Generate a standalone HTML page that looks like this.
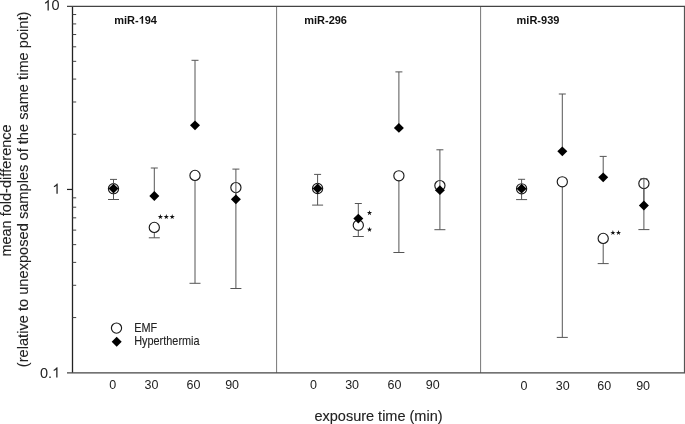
<!DOCTYPE html>
<html><head><meta charset="utf-8"><style>
html,body{margin:0;padding:0;background:#fff;width:685px;height:424px;overflow:hidden;position:relative}
</style></head><body>
<svg width="685" height="424" viewBox="0 0 685 424" style="position:absolute;left:0;top:0;will-change:transform;font-variant-ligatures:none;font-kerning:none">
<rect width="685" height="424" fill="#fff"/>
<line x1="276.6" y1="6.3" x2="276.6" y2="372.8" stroke="#777" stroke-width="1.0"/>
<line x1="480.6" y1="6.3" x2="480.6" y2="372.8" stroke="#777" stroke-width="1.0"/>
<line x1="72.5" y1="6.3" x2="72.5" y2="372.8" stroke="#222" stroke-width="1.3"/>
<line x1="684.5" y1="6.3" x2="684.5" y2="372.8" stroke="#555" stroke-width="1.2"/>
<line x1="67" y1="6.3" x2="685" y2="6.3" stroke="#444" stroke-width="1.35"/>
<line x1="67" y1="372.8" x2="685" y2="372.8" stroke="#444" stroke-width="1.35"/>
<line x1="67" y1="189.45" x2="72.5" y2="189.45" stroke="#222" stroke-width="1.2"/>
<line x1="72.5" y1="134.27" x2="76.2" y2="134.27" stroke="#444" stroke-width="1.0"/>
<line x1="72.5" y1="101.99" x2="76.2" y2="101.99" stroke="#444" stroke-width="1.0"/>
<line x1="72.5" y1="79.09" x2="76.2" y2="79.09" stroke="#444" stroke-width="1.0"/>
<line x1="72.5" y1="61.33" x2="76.2" y2="61.33" stroke="#444" stroke-width="1.0"/>
<line x1="72.5" y1="46.81" x2="76.2" y2="46.81" stroke="#444" stroke-width="1.0"/>
<line x1="72.5" y1="34.54" x2="76.2" y2="34.54" stroke="#444" stroke-width="1.0"/>
<line x1="72.5" y1="23.91" x2="76.2" y2="23.91" stroke="#444" stroke-width="1.0"/>
<line x1="72.5" y1="14.54" x2="76.2" y2="14.54" stroke="#444" stroke-width="1.0"/>
<line x1="72.5" y1="317.57" x2="76.2" y2="317.57" stroke="#444" stroke-width="1.0"/>
<line x1="72.5" y1="285.29" x2="76.2" y2="285.29" stroke="#444" stroke-width="1.0"/>
<line x1="72.5" y1="262.39" x2="76.2" y2="262.39" stroke="#444" stroke-width="1.0"/>
<line x1="72.5" y1="244.63" x2="76.2" y2="244.63" stroke="#444" stroke-width="1.0"/>
<line x1="72.5" y1="230.11" x2="76.2" y2="230.11" stroke="#444" stroke-width="1.0"/>
<line x1="72.5" y1="217.84" x2="76.2" y2="217.84" stroke="#444" stroke-width="1.0"/>
<line x1="72.5" y1="207.21" x2="76.2" y2="207.21" stroke="#444" stroke-width="1.0"/>
<line x1="72.5" y1="197.84" x2="76.2" y2="197.84" stroke="#444" stroke-width="1.0"/>
<g font-family='"Liberation Sans", sans-serif' fill="#222" style="font-size:14.5px">
<path d="M763 0H583V1147Q500 1068 400 1010Q300 955 224 931V1105Q380 1180 480 1275Q590 1375 647 1472H763Z" fill="#222" transform="translate(43.40,10.40) scale(0.007080,-0.007080)"/>
<text x="51.46" y="10.4">0</text>
<path d="M763 0H583V1147Q500 1068 400 1010Q300 955 224 931V1105Q380 1180 480 1275Q590 1375 647 1472H763Z" fill="#222" transform="translate(52.30,193.80) scale(0.007080,-0.007080)"/>
<text x="40.0" y="377.6">0.</text>
<path d="M763 0H583V1147Q500 1068 400 1010Q300 955 224 931V1105Q380 1180 480 1275Q590 1375 647 1472H763Z" fill="#222" transform="translate(52.09,377.60) scale(0.007080,-0.007080)"/>
</g>
<g font-family='"Liberation Sans", sans-serif' fill="#222" text-anchor="middle" style="font-size:12.5px">
<text x="112.8" y="388.7">0</text>
<text x="151.5" y="388.7">30</text>
<text x="193.4" y="388.7">60</text>
<text x="232.1" y="388.7">90</text>
<text x="313.6" y="388.7">0</text>
<text x="352.1" y="388.7">30</text>
<text x="394.4" y="388.7">60</text>
<text x="432.8" y="388.7">90</text>
<text x="524.0" y="389.5">0</text>
<text x="562.7" y="389.5">30</text>
<text x="604.2" y="389.5">60</text>
<text x="643.1" y="389.5">90</text>
</g>
<text x="378.5" y="420.8" font-family='"Liberation Sans", sans-serif' fill="#222" stroke="#222" stroke-width="0.12" text-anchor="middle" style="font-size:14.5px">exposure time (min)</text>
<g font-family='"Liberation Sans", sans-serif' fill="#222" stroke="#222" stroke-width="0.12" text-anchor="middle" style="font-size:14.5px">
<text transform="translate(11,190.5) rotate(-90)">mean fold-difference</text>
<text transform="translate(27.6,189.4) rotate(-90)" style="font-size:14.65px">(relative to unexposed samples of the same time point)</text>
</g>
<g font-family='"Liberation Sans", sans-serif' fill="#111" font-weight="bold" style="font-size:11.0px">
<text x="114.2" y="23.8">miR-</text>
<path d="M834 0H553V1059Q400 920 191 846V1101Q300 1140 430 1236Q560 1335 607 1469H834Z" fill="#111" transform="translate(138.64,23.80) scale(0.005371,-0.005371)"/>
<text x="144.76" y="23.8">94</text>
<text x="304.2" y="23.8">miR-296</text>
<text x="516.6" y="23.8">miR-939</text>
</g>
<line x1="113.5" y1="188.7" x2="113.5" y2="199.5" stroke="#555" stroke-width="1.0"/>
<line x1="108.0" y1="199.5" x2="119.0" y2="199.5" stroke="#555" stroke-width="1.0"/>
<circle cx="113.5" cy="188.7" r="5.1" fill="#fff" stroke="#1a1a1a" stroke-width="1.15"/>
<line x1="154.3" y1="227.4" x2="154.3" y2="237.8" stroke="#555" stroke-width="1.0"/>
<line x1="148.8" y1="237.8" x2="159.8" y2="237.8" stroke="#555" stroke-width="1.0"/>
<circle cx="154.3" cy="227.4" r="5.1" fill="#fff" stroke="#1a1a1a" stroke-width="1.15"/>
<line x1="195.0" y1="175.4" x2="195.0" y2="283.3" stroke="#555" stroke-width="1.0"/>
<line x1="189.5" y1="283.3" x2="200.5" y2="283.3" stroke="#555" stroke-width="1.0"/>
<circle cx="195.0" cy="175.4" r="5.1" fill="#fff" stroke="#1a1a1a" stroke-width="1.15"/>
<line x1="235.9" y1="187.6" x2="235.9" y2="288.5" stroke="#555" stroke-width="1.0"/>
<line x1="230.4" y1="288.5" x2="241.4" y2="288.5" stroke="#555" stroke-width="1.0"/>
<circle cx="235.9" cy="187.6" r="5.1" fill="#fff" stroke="#1a1a1a" stroke-width="1.15"/>
<line x1="317.6" y1="188.5" x2="317.6" y2="205.1" stroke="#555" stroke-width="1.0"/>
<line x1="312.1" y1="205.1" x2="323.1" y2="205.1" stroke="#555" stroke-width="1.0"/>
<circle cx="317.6" cy="188.5" r="5.1" fill="#fff" stroke="#1a1a1a" stroke-width="1.15"/>
<line x1="358.3" y1="225.2" x2="358.3" y2="236.5" stroke="#555" stroke-width="1.0"/>
<line x1="352.8" y1="236.5" x2="363.8" y2="236.5" stroke="#555" stroke-width="1.0"/>
<circle cx="358.3" cy="225.2" r="5.1" fill="#fff" stroke="#1a1a1a" stroke-width="1.15"/>
<line x1="398.9" y1="175.8" x2="398.9" y2="252.5" stroke="#555" stroke-width="1.0"/>
<line x1="393.4" y1="252.5" x2="404.4" y2="252.5" stroke="#555" stroke-width="1.0"/>
<circle cx="398.9" cy="175.8" r="5.1" fill="#fff" stroke="#1a1a1a" stroke-width="1.15"/>
<line x1="439.9" y1="185.6" x2="439.9" y2="229.7" stroke="#555" stroke-width="1.0"/>
<line x1="434.4" y1="229.7" x2="445.4" y2="229.7" stroke="#555" stroke-width="1.0"/>
<circle cx="439.9" cy="185.6" r="5.1" fill="#fff" stroke="#1a1a1a" stroke-width="1.15"/>
<line x1="521.6" y1="188.8" x2="521.6" y2="199.6" stroke="#555" stroke-width="1.0"/>
<line x1="516.1" y1="199.6" x2="527.1" y2="199.6" stroke="#555" stroke-width="1.0"/>
<circle cx="521.6" cy="188.8" r="5.1" fill="#fff" stroke="#1a1a1a" stroke-width="1.15"/>
<line x1="562.3" y1="181.8" x2="562.3" y2="337.4" stroke="#555" stroke-width="1.0"/>
<line x1="556.8" y1="337.4" x2="567.8" y2="337.4" stroke="#555" stroke-width="1.0"/>
<circle cx="562.3" cy="181.8" r="5.1" fill="#fff" stroke="#1a1a1a" stroke-width="1.15"/>
<line x1="603.2" y1="238.4" x2="603.2" y2="263.6" stroke="#555" stroke-width="1.0"/>
<line x1="597.7" y1="263.6" x2="608.7" y2="263.6" stroke="#555" stroke-width="1.0"/>
<circle cx="603.2" cy="238.4" r="5.1" fill="#fff" stroke="#1a1a1a" stroke-width="1.15"/>
<line x1="643.9" y1="183.5" x2="643.9" y2="229.6" stroke="#555" stroke-width="1.0"/>
<line x1="638.4" y1="229.6" x2="649.4" y2="229.6" stroke="#555" stroke-width="1.0"/>
<circle cx="643.9" cy="183.5" r="5.1" fill="#fff" stroke="#1a1a1a" stroke-width="1.15"/>
<line x1="113.5" y1="188.6" x2="113.5" y2="179.4" stroke="#555" stroke-width="1.0"/>
<line x1="110.0" y1="179.4" x2="117.0" y2="179.4" stroke="#555" stroke-width="1.0"/>
<polygon points="113.5,183.7 118.5,188.6 113.5,193.5 108.5,188.6" fill="#000"/>
<line x1="154.3" y1="196.0" x2="154.3" y2="168.0" stroke="#555" stroke-width="1.0"/>
<line x1="150.8" y1="168.0" x2="157.8" y2="168.0" stroke="#555" stroke-width="1.0"/>
<polygon points="154.3,191.1 159.3,196.0 154.3,200.9 149.3,196.0" fill="#000"/>
<line x1="195.0" y1="125.3" x2="195.0" y2="60.3" stroke="#555" stroke-width="1.0"/>
<line x1="191.5" y1="60.3" x2="198.5" y2="60.3" stroke="#555" stroke-width="1.0"/>
<polygon points="195.0,120.39999999999999 200.0,125.3 195.0,130.2 190.0,125.3" fill="#000"/>
<line x1="235.9" y1="199.3" x2="235.9" y2="169.1" stroke="#555" stroke-width="1.0"/>
<line x1="232.4" y1="169.1" x2="239.4" y2="169.1" stroke="#555" stroke-width="1.0"/>
<polygon points="235.9,194.4 240.9,199.3 235.9,204.20000000000002 230.9,199.3" fill="#000"/>
<line x1="317.6" y1="188.5" x2="317.6" y2="174.4" stroke="#555" stroke-width="1.0"/>
<line x1="314.1" y1="174.4" x2="321.1" y2="174.4" stroke="#555" stroke-width="1.0"/>
<polygon points="317.6,183.6 322.6,188.5 317.6,193.4 312.6,188.5" fill="#000"/>
<line x1="358.3" y1="218.6" x2="358.3" y2="203.5" stroke="#555" stroke-width="1.0"/>
<line x1="354.8" y1="203.5" x2="361.8" y2="203.5" stroke="#555" stroke-width="1.0"/>
<polygon points="358.3,213.7 363.3,218.6 358.3,223.5 353.3,218.6" fill="#000"/>
<line x1="398.9" y1="127.9" x2="398.9" y2="71.9" stroke="#555" stroke-width="1.0"/>
<line x1="395.4" y1="71.9" x2="402.4" y2="71.9" stroke="#555" stroke-width="1.0"/>
<polygon points="398.9,123.0 403.9,127.9 398.9,132.8 393.9,127.9" fill="#000"/>
<line x1="439.9" y1="190.2" x2="439.9" y2="149.8" stroke="#555" stroke-width="1.0"/>
<line x1="436.4" y1="149.8" x2="443.4" y2="149.8" stroke="#555" stroke-width="1.0"/>
<polygon points="439.9,185.29999999999998 444.9,190.2 439.9,195.1 434.9,190.2" fill="#000"/>
<line x1="521.6" y1="188.7" x2="521.6" y2="179.3" stroke="#555" stroke-width="1.0"/>
<line x1="518.1" y1="179.3" x2="525.1" y2="179.3" stroke="#555" stroke-width="1.0"/>
<polygon points="521.6,183.79999999999998 526.6,188.7 521.6,193.6 516.6,188.7" fill="#000"/>
<line x1="562.3" y1="151.3" x2="562.3" y2="94.0" stroke="#555" stroke-width="1.0"/>
<line x1="558.8" y1="94.0" x2="565.8" y2="94.0" stroke="#555" stroke-width="1.0"/>
<polygon points="562.3,146.4 567.3,151.3 562.3,156.20000000000002 557.3,151.3" fill="#000"/>
<line x1="603.2" y1="177.3" x2="603.2" y2="156.4" stroke="#555" stroke-width="1.0"/>
<line x1="599.7" y1="156.4" x2="606.7" y2="156.4" stroke="#555" stroke-width="1.0"/>
<polygon points="603.2,172.4 608.2,177.3 603.2,182.20000000000002 598.2,177.3" fill="#000"/>
<line x1="643.9" y1="205.5" x2="643.9" y2="178.7" stroke="#555" stroke-width="1.0"/>
<line x1="640.4" y1="178.7" x2="647.4" y2="178.7" stroke="#555" stroke-width="1.0"/>
<polygon points="643.9,200.6 648.9,205.5 643.9,210.4 638.9,205.5" fill="#000"/>
<polygon points="160.40,214.11 161.02,216.01 163.02,216.01 161.40,217.19 162.02,219.09 160.40,217.91 158.78,219.09 159.40,217.19 157.78,216.01 159.78,216.01" fill="#111"/>
<polygon points="166.30,214.11 166.92,216.01 168.92,216.01 167.30,217.19 167.92,219.09 166.30,217.91 164.68,219.09 165.30,217.19 163.68,216.01 165.68,216.01" fill="#111"/>
<polygon points="172.20,214.11 172.82,216.01 174.82,216.01 173.20,217.19 173.82,219.09 172.20,217.91 170.58,219.09 171.20,217.19 169.58,216.01 171.58,216.01" fill="#111"/>
<polygon points="369.50,210.16 370.12,212.06 372.12,212.06 370.50,213.24 371.12,215.14 369.50,213.96 367.88,215.14 368.50,213.24 366.88,212.06 368.88,212.06" fill="#111"/>
<polygon points="369.50,226.86 370.12,228.76 372.12,228.76 370.50,229.94 371.12,231.84 369.50,230.66 367.88,231.84 368.50,229.94 366.88,228.76 368.88,228.76" fill="#111"/>
<polygon points="612.90,230.01 613.52,231.91 615.52,231.91 613.90,233.09 614.52,234.99 612.90,233.81 611.28,234.99 611.90,233.09 610.28,231.91 612.28,231.91" fill="#111"/>
<polygon points="618.50,230.01 619.12,231.91 621.12,231.91 619.50,233.09 620.12,234.99 618.50,233.81 616.88,234.99 617.50,233.09 615.88,231.91 617.88,231.91" fill="#111"/>
<circle cx="116.5" cy="328.1" r="5.1" fill="#fff" stroke="#1a1a1a" stroke-width="1.15"/>
<polygon points="116.7,336.8 121.7,341.8 116.7,346.8 111.7,341.8" fill="#000"/>
<g font-family='"Liberation Sans", sans-serif' fill="#222" stroke="#222" stroke-width="0.1" style="font-size:10.9px">
<text transform="translate(134.2,331.9) scale(1,1.09)">EMF</text>
<text transform="translate(134.2,344.7) scale(1,1.09)">Hyperthermia</text>
</g>
</svg>
</body></html>
